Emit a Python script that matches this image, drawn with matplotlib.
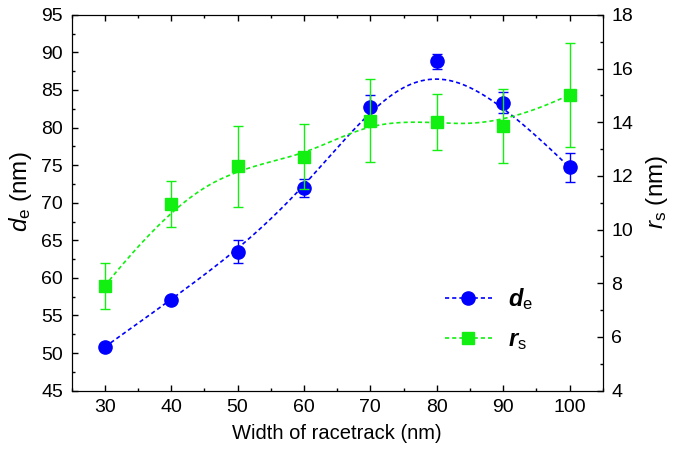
#!/usr/bin/env python3

import numpy as np
import matplotlib
matplotlib.use('Agg')
import matplotlib.pyplot as plt
from matplotlib.ticker import MultipleLocator
from matplotlib.lines import Line2D

plt.rcParams['font.family'] = ['Liberation Sans', 'DejaVu Sans']
plt.rcParams['mathtext.fontset'] = 'custom'
plt.rcParams['mathtext.rm'] = 'Liberation Sans'
plt.rcParams['mathtext.it'] = 'Liberation Sans:italic'
plt.rcParams['mathtext.bf'] = 'Liberation Sans:bold:italic'

# data
width = [30, 40, 50, 60, 70, 80, 90, 100]
d_e = [50.8, 57.1, 63.5, 72.0, 82.7, 88.8, 83.3, 74.7]
d_e_err = [0.5, 0.5, 1.5, 1.2, 1.6, 1.05, 1.4, 1.9]
r_s = [7.9, 10.96, 12.35, 12.72, 14.05, 14.0, 13.86, 15.02]
r_s_err = [0.85, 0.85, 1.5, 1.22, 1.55, 1.05, 1.38, 1.93]

blue = '#0000ff'
green = '#11f011'


def bspline(px, py, num=400, k=3):
    # clamped uniform cubic B-spline, data points used as control points
    px = np.asarray(px, float)
    py = np.asarray(py, float)
    n = len(px)
    knots = np.concatenate([[0] * k, np.arange(n - k + 1), [n - k] * k]).astype(float)
    t = np.linspace(0, n - k, num)
    N = np.zeros((len(knots) - 1, num))
    for i in range(len(knots) - 1):
        N[i] = (knots[i] <= t) & (t < knots[i + 1])
    N[n - 1, -1] = 1.0
    for p in range(1, k + 1):
        Nn = np.zeros((len(knots) - p - 1, num))
        for i in range(len(knots) - p - 1):
            a = knots[i + p] - knots[i]
            b = knots[i + p + 1] - knots[i + 1]
            if a > 0:
                Nn[i] += (t - knots[i]) / a * N[i]
            if b > 0:
                Nn[i] += (knots[i + p + 1] - t) / b * N[i + 1]
        N = Nn
    return N.T @ px, N.T @ py


dash = (2.5, 1.8)

fig = plt.figure(figsize=(6.75, 4.49), dpi=100)
ax = fig.add_axes([0.106, 0.13, 0.787, 0.837])
ax2 = ax.twinx()

sx, sy = bspline(width, d_e)
ax.plot(sx, sy, '--', color=blue, lw=1.2, dashes=dash)
ax.errorbar(width, d_e, yerr=d_e_err, fmt='o', color=blue, ms=9.5,
            ecolor=blue, elinewidth=1.0, capsize=3.6, capthick=1.0)

sx, sy = bspline(width, r_s)
ax2.plot(sx, sy, '--', color=green, lw=1.2, dashes=dash)
ax2.errorbar(width, r_s, yerr=r_s_err, fmt='s', color=green, ms=8.5,
             ecolor=green, elinewidth=1.0, capsize=3.6, capthick=1.0)

ax.set_xlim(25, 105)
ax.set_ylim(45, 95)
ax2.set_ylim(4, 18)

ax.xaxis.set_major_locator(MultipleLocator(10))
ax.xaxis.set_minor_locator(MultipleLocator(5))
ax.yaxis.set_major_locator(MultipleLocator(5))
ax.yaxis.set_minor_locator(MultipleLocator(2.5))
ax2.yaxis.set_major_locator(MultipleLocator(2))
ax2.yaxis.set_minor_locator(MultipleLocator(1))

ax.tick_params(which='both', direction='in', top=True, right=False, labelsize=14)
ax.tick_params(which='major', length=4.5, width=1, pad=6)
ax.tick_params(which='minor', length=2.5, width=1)
ax2.tick_params(which='both', direction='in', labelsize=14)
ax2.tick_params(which='major', length=4.5, width=1, pad=6)
ax2.tick_params(which='minor', length=2.5, width=1)

ax.set_xlabel('Width of racetrack (nm)', fontsize=14.5, labelpad=6)
ax.set_ylabel(r'$\mathit{d}_\mathrm{e}$ (nm)', fontsize=17.5, labelpad=5)
ax2.set_ylabel(r'$\mathit{r}_\mathrm{s}$ (nm)', fontsize=17.5, labelpad=8)
ax.yaxis.label.set_y(0.53)
ax2.yaxis.label.set_y(0.53)

handles = [
    Line2D([], [], color=blue, ls='--', lw=1.2, dashes=dash, marker='o', ms=9.5),
    Line2D([], [], color=green, ls='--', lw=1.2, dashes=dash, marker='s', ms=8.5),
]
ax2.legend(handles, [r'$\mathbf{d}_\mathrm{e}$', r'$\mathbf{r}_\mathrm{s}$'],
           loc='upper left', bbox_to_anchor=(0.68, 0.31), frameon=False,
           fontsize=17, handlelength=2.0, handletextpad=0.7, labelspacing=0.75,
           borderpad=0)

plt.savefig('out.png', dpi=100)
plt.close('all')
